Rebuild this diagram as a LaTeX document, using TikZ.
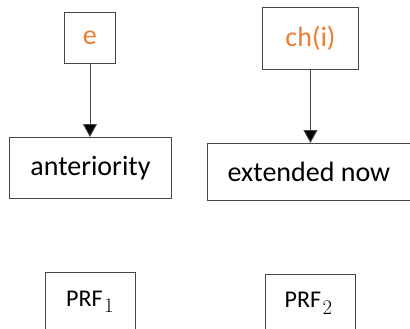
\documentclass[tikz,border=0pt]{standalone}
\usepackage{fontspec}
\setmainfont{Carlito}
\usetikzlibrary{arrows.meta,calc}
\definecolor{labelorange}{RGB}{237,125,49}
\definecolor{edge}{RGB}{70,70,70}
\newcommand{\prflabel}[1]{PRF\kern1.5pt\raisebox{-6.5pt}{\fontsize{21}{24}\selectfont$#1$}}
\begin{document}
\begin{tikzpicture}[x=1pt,y=-1pt,
  box/.style={draw=edge,line width=0.9pt,inner sep=0pt,anchor=north west},
  link/.style={draw=edge,line width=0.9pt,-{Triangle[length=13pt,width=14pt,fill=black]}},
  lbl/.style={font=\fontsize{28}{32}\selectfont},
  prf/.style={inner sep=0pt,anchor=base west,font=\fontsize{24}{28}\selectfont}]
\useasboundingbox (0,0) rectangle (410,329);
% top row
\node[box,minimum width=51pt,minimum height=51pt] (e) at (64,12) {};
\node[lbl,text=labelorange] (et) at (e.center) {e};
\node[box,minimum width=96pt,minimum height=62pt] (ch) at (262,7) {};
\node[lbl,text=labelorange] (cht) at (ch.center) {ch(i)};
% middle row
\node[box,minimum width=162pt,minimum height=61pt] (ant) at (9,137) {};
\node[lbl] (antt) at (ant.center) {anteriority};
\node[box,minimum width=203pt,minimum height=57pt] (ext) at (207,143) {};
\node[lbl] (extt) at (ext.center) {extended now};
% bottom row
\node[box,minimum width=90pt,minimum height=70pt] (p1) at (45,272) {};
\node[prf] (p1t) at ($(p1.north west)+(21,34)$) {\prflabel{1}};
\node[box,minimum width=90pt,minimum height=70pt] (p2) at (265,274) {};
\node[prf] (p2t) at ($(p2.north west)+(19.5,33.5)$) {\prflabel{2}};
% arrows
\draw[link] (e.south) -- (e.south |- ant.north);
\draw[link] (ch.south) -- (ch.south |- ext.north);
\end{tikzpicture}
\end{document}
